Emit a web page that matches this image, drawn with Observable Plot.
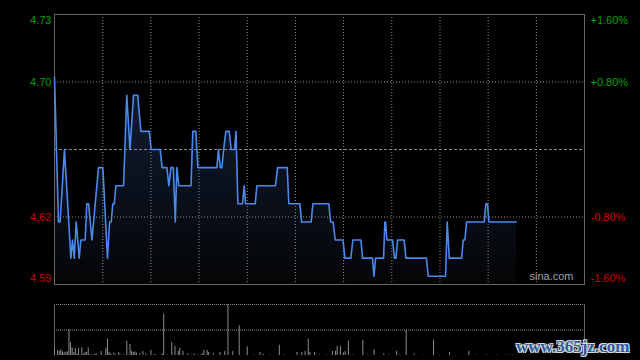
<!DOCTYPE html>
<html>
<head>
<meta charset="utf-8">
<script src="https://cdn.jsdelivr.net/npm/d3@7"></script>
<script src="https://cdn.jsdelivr.net/npm/@observablehq/plot@0.6"></script>
<style>
html, body { margin: 0; padding: 0; background: #000; }
#wrap { position: relative; width: 640px; height: 360px; background: #000; overflow: hidden; }
#price, #vol { position: absolute; left: 0; }
#price { top: 0; }
#vol { top: 290px; }
#wm {
  position: absolute; left: 516px; top: 337px; line-height: 17px;
  font: bold 17px "Liberation Serif", serif; color: #2f5d9f; white-space: nowrap;
  text-shadow: 1px 1px 0 #d8d8d8, -1px -1px 0 #d8d8d8, 1px -1px 0 #d8d8d8, -1px 1px 0 #d8d8d8, 0 0 2px #bbb;
}
</style>
</head>
<body>
<div id="wrap">
  <div id="price"></div>
  <div id="vol"></div>
  <div id="wm">www.365jz.com</div>
</div>
<script>
// ---- data ----
const prevClose = 4.66;
const pctTicks = [1.6, 0.8, -0.8, -1.6];
const leftLabels = ["4.73", "4.70", "4.62", "4.59"];
const rightLabels = ["+1.60%", "+0.80%", "-0.80%", "-1.60%"];
const sessionMinutes = 330;
const timeGrid = [30, 60, 90, 120, 150, 180, 210, 240, 270, 300];
const sourceLabel = "sina.com";

const priceMinute = [0, 2.5, 3.5, 6.2, 10.2, 11.2, 12.3, 13.5, 15.4, 16.4, 19.1, 20.1, 21.2, 23.3, 27.4, 30.1,
  33, 34.3, 35.3, 36.3, 37.2, 38.2, 43, 45, 47, 49.2, 51.8, 53.8, 59, 60.2, 65.8, 67, 70, 71.2, 72.5, 74,
  75.2, 76.2, 77.4, 85, 86.1, 88, 89.3, 101.1, 102.1, 103.2, 104.2, 105.3, 106.7, 108.8, 110, 112.1, 113,
  114.2, 117.1, 118.1, 119, 125, 126, 137.6, 138.9, 144.9, 145.9, 152.8, 153.8, 159.8, 160.9, 170.8, 171.9,
  173.5, 174.8, 179.6, 180.8, 184.5, 185.8, 190.8, 191.8, 198, 198.9, 199.9, 204.9, 205.7, 206.1, 207, 210.5,
  211.7, 212.6, 213.6, 217.7, 218.8, 231.6, 232.7, 243.5, 244.5, 245.8, 253.5, 254.5, 255.5, 256.6, 267.6,
  268.6, 269.6, 270.5, 287.5];
const priceValue = [4.70, 4.62, 4.62, 4.66, 4.60, 4.61, 4.60, 4.62, 4.60, 4.61, 4.61, 4.63, 4.63, 4.61, 4.65, 4.65,
  4.60, 4.62, 4.62, 4.63, 4.63, 4.64, 4.64, 4.69, 4.66, 4.69, 4.69, 4.67, 4.67, 4.66, 4.66, 4.65, 4.65, 4.64, 4.65, 4.65,
  4.62, 4.65, 4.64, 4.64, 4.67, 4.67, 4.65, 4.65, 4.66, 4.65, 4.65, 4.66, 4.67, 4.67, 4.66, 4.66, 4.67,
  4.63, 4.63, 4.64, 4.63, 4.63, 4.64, 4.64, 4.65, 4.65, 4.63, 4.63, 4.62, 4.62, 4.63, 4.63, 4.62,
  4.62, 4.61, 4.61, 4.60, 4.60, 4.61, 4.61, 4.60, 4.60, 4.59, 4.60, 4.60, 4.62, 4.62, 4.61, 4.61,
  4.60, 4.60, 4.61, 4.61, 4.60, 4.60, 4.59, 4.59, 4.62, 4.60, 4.60, 4.61, 4.61, 4.62, 4.62,
  4.63, 4.63, 4.62, 4.62];

const volMinute = [0, 2, 3, 4, 5, 6, 7, 8, 9, 10, 11, 12, 13, 14, 15, 17, 18, 19, 20, 21, 22, 23, 25, 26, 29, 32,
  33, 34, 35, 37, 38, 40, 41, 43, 45, 47, 48, 49, 50, 51, 53, 55, 57, 60, 62, 63, 67, 68, 70, 73, 75, 77, 78,
  80, 83, 85, 87, 89, 91, 92, 93, 95, 96, 99, 103, 106, 108, 111, 115, 120, 124, 128, 130, 134, 140, 143, 151,
  154, 156, 158, 159, 162, 165, 169, 173, 175, 176, 178, 180, 181, 183, 186, 192, 195, 199, 205, 208, 213,
  215, 219, 224, 230, 236, 240, 246, 250, 258, 263, 269, 275, 281, 285];
const volAmount = [15, 10, 8, 11, 7, 5, 7, 7, 51, 25, 15, 6, 14, 3, 14, 15, 3, 6, 6, 15, 1, 1, 3, 3, 8, 14,
  32, 6, 3, 5, 1, 6, 1, 1, 28, 22, 8, 6, 7, 5, 3, 8, 3, 10, 2, 1, 3, 81, 1, 26, 18, 8, 14,
  8, 3, 1, 3, 1, 1, 3, 10, 10, 6, 3, 6, 8, 100, 8, 58, 17, 1, 6, 2, 1, 20, 1, 6,
  6, 8, 32, 6, 6, 1, 1, 8, 8, 18, 18, 5, 8, 28, 1, 30, 1, 11, 3, 1, 8,
  1, 50, 3, 1, 30, 1, 6, 1, 8, 1, 1, 1, 1, 1];

// ---- derived tables ----
const price = priceMinute.map((m, i) => ({m, p: priceValue[i]}));
const vol = volMinute.map((m, i) => ({m, v: volAmount[i]}));
const yMax = prevClose * (1 + d3.max(pctTicks) / 100);
const yMin = prevClose * (1 + d3.min(pctTicks) / 100);
const ticks = pctTicks.map((pct, i) => ({
  pct, y: prevClose * (1 + pct / 100), left: leftLabels[i], right: rightLabels[i]
}));
const green = "#00a000", red = "#d00000";
const font = "'Liberation Sans', Arial, sans-serif";

const labelMarks = [];
ticks.forEach((t, i) => {
  const dy = i === 0 ? 5.5 : i === ticks.length - 1 ? -6.5 : 0;
  const fill = t.pct > 0 ? green : red;
  labelMarks.push(Plot.text([t], {y: "y", text: "left", fill, frameAnchor: "left", textAnchor: "end", dx: -3, dy}));
  labelMarks.push(Plot.text([t], {y: "y", text: "right", fill, frameAnchor: "right", textAnchor: "start", dx: 6, dy}));
});

const pricePlot = Plot.plot({
  width: 640, height: 290,
  marginLeft: 54, marginRight: 56, marginTop: 14, marginBottom: 6,
  x: {domain: [0, sessionMinutes], axis: null},
  y: {domain: [yMin, yMax], axis: null},
  style: {background: "transparent", fontFamily: font, fontSize: "11px", overflow: "visible"},
  marks: [
    Plot.areaY(price, {x: "m", y1: () => yMin, y2: "p", fill: "url(#priceFill)"}),
    Plot.ruleY(ticks.filter((t, i) => i > 0 && i < ticks.length - 1), {y: "y", stroke: "#8a8a8a", strokeDasharray: "1,2"}),
    Plot.ruleY([prevClose], {stroke: "#8a8a8a", strokeDasharray: "3,2"}),
    Plot.ruleX(timeGrid, {stroke: "#8a8a8a", strokeDasharray: "1,2"}),
    Plot.frame({stroke: "#666"}),
    Plot.lineY(price, {x: "m", y: "p", stroke: "#4a88ea", strokeWidth: 1.6}),
    ...labelMarks,
    Plot.text([sourceLabel], {text: d => d, frameAnchor: "bottom-right", textAnchor: "end", dx: -11, dy: -5, fill: "#a0a0a0", fontSize: 11})
  ]
});

const defs = d3.select(pricePlot).insert("defs", ":first-child");
const grad = defs.append("linearGradient").attr("id", "priceFill")
  .attr("x1", 0).attr("y1", 0).attr("x2", 0).attr("y2", 1);
grad.append("stop").attr("offset", "0%").attr("stop-color", "#111e36");
grad.append("stop").attr("offset", "100%").attr("stop-color", "#040506");

document.getElementById("price").appendChild(pricePlot);

const volPlot = Plot.plot({
  width: 640, height: 70,
  marginLeft: 54, marginRight: 56, marginTop: 14, marginBottom: 5,
  x: {domain: [0, sessionMinutes], axis: null},
  y: {domain: [0, 100], axis: null},
  style: {background: "transparent", fontFamily: font, fontSize: "11px", overflow: "visible"},
  marks: [
    Plot.ruleY([100, 50], {stroke: "#8a8a8a", strokeDasharray: "1,1"}),
    Plot.ruleX([0, sessionMinutes], {y1: 0, y2: 100, stroke: "#666"}),
    Plot.ruleX(vol, {x: "m", y1: 0, y2: "v", stroke: "#8c8c8c"})
  ]
});
document.getElementById("vol").appendChild(volPlot);
</script>
</body>
</html>
